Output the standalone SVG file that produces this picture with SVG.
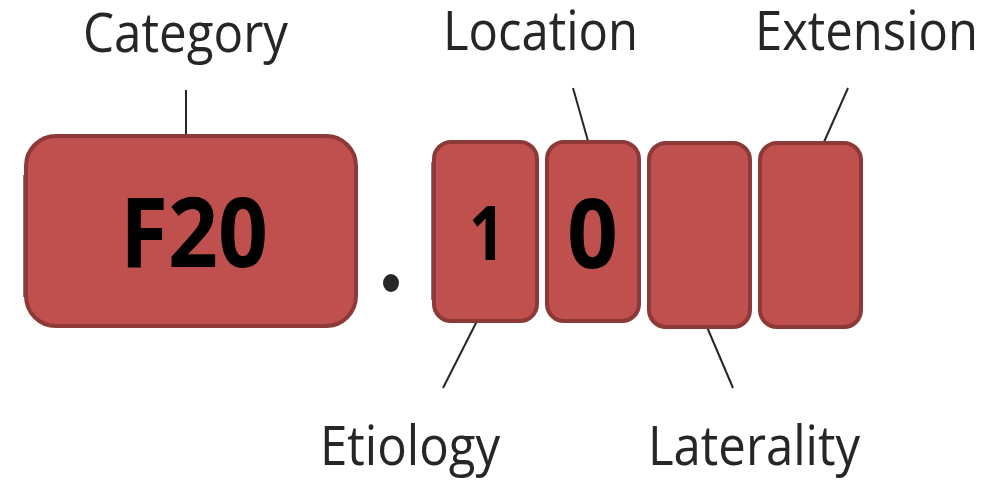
<svg xmlns="http://www.w3.org/2000/svg" width="999" height="480" viewBox="0 0 999 480">
<style>
.box{fill:#C0504D;stroke:#8C3937;stroke-width:4}
.lbl{font-family:"Open Sans","DejaVu Sans",sans-serif;font-size:54px;fill:#262626;text-anchor:start}
.code{font-family:"Open Sans","DejaVu Sans",sans-serif;font-weight:bold;fill:#000}
.con{stroke:#262626;stroke-width:2;fill:none}
.shd{stroke:#4a4a4a;stroke-width:2;opacity:0.7;fill:none}
</style>
<rect width="999" height="480" fill="#fff"/>
<g id="connectors">
<line class="con" x1="186" y1="90" x2="186" y2="135"/>
<line class="con" x1="573" y1="88" x2="588" y2="141"/>
<line class="con" x1="848" y1="88" x2="824" y2="142"/>
<line class="con" x1="477" y1="321" x2="443" y2="388"/>
<line class="con" x1="707" y1="327" x2="733" y2="388"/>
</g>
<g id="category">
<line class="shd" x1="24" y1="175" x2="24" y2="297"/>
<rect class="box" x="26" y="136" width="330" height="190" rx="30"/>
<text class="code" x="120" y="267" font-size="96" textLength="148" lengthAdjust="spacingAndGlyphs">F20</text>
<text class="lbl" x="83" y="52" textLength="205" lengthAdjust="spacingAndGlyphs">Category</text>
</g>
<g id="dot">
<ellipse cx="391" cy="283" rx="8" ry="9" fill="#262626"/>
</g>
<g id="etiology">
<line class="shd" x1="432" y1="162" x2="432" y2="300"/>
<rect class="box" x="434" y="142" width="103" height="179" rx="17"/>
<text class="code" x="469" y="260" font-size="76" textLength="36" lengthAdjust="spacingAndGlyphs">1</text>
<text class="lbl" x="320" y="465" textLength="180" lengthAdjust="spacingAndGlyphs">Etiology</text>
</g>
<g id="location">
<rect class="box" x="547" y="142" width="92" height="179" rx="17"/>
<text class="code" x="567" y="268" font-size="96" textLength="51" lengthAdjust="spacingAndGlyphs">0</text>
<text class="lbl" x="443" y="50" textLength="195" lengthAdjust="spacingAndGlyphs">Location</text>
</g>
<g id="laterality">
<rect class="box" x="649" y="143" width="101" height="184" rx="17"/>
<text class="lbl" x="648" y="465" textLength="212" lengthAdjust="spacingAndGlyphs">Laterality</text>
</g>
<g id="extension">
<rect class="box" x="760" y="143" width="101" height="184" rx="17"/>
<text class="lbl" x="755" y="50" textLength="223" lengthAdjust="spacingAndGlyphs">Extension</text>
</g>
</svg>
